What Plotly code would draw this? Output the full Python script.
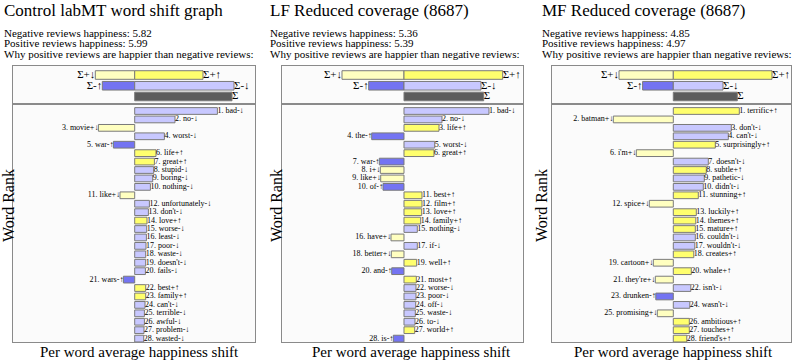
import plotly.graph_objects as go

W, H = 797, 361
FONT = "Liberation Serif"

titles = ["Control labMT word shift graph", "LF Reduced coverage (8687)", "MF Reduced coverage (8687)"]
neg_happiness = [5.82, 5.36, 4.85]
pos_happiness = [5.99, 5.39, 4.97]

words_control = ["bad-↓", "no-↓", "movie+↓", "worst-↓", "war-↑", "life+↑", "great+↑", "stupid-↓",
                 "boring-↓", "nothing-↓", "like+↓", "unfortunately-↓", "don't-↓", "love+↑", "worse-↓",
                 "least-↓", "poor-↓", "waste-↓", "doesn't-↓", "fails-↓", "wars-↑", "best+↑", "family+↑",
                 "can't-↓", "terrible-↓", "awful-↓", "problem-↓", "wasted-↓"]
shift_control = [82.7, 40.3, -36.3, 29.7, -21.3, 21.3, 19.7, 19, 18, 15.7, -14.7, 14.7, 13.7, 12.3,
                 12, 11.7, 11.3, 11, 11, 10.7, -11.3, 11, 11, 10.3, 9.7, 9.7, 9.3, 9]

words_lf = ["bad-↓", "no-↓", "life+↑", "the-↑", "worst-↓", "great+↑", "war-↑", "i+↓", "like+↓", "of-↑",
            "best+↑", "film+↑", "love+↑", "family+↑", "nothing-↓", "have+↓", "if-↓", "better+↓",
            "well+↑", "and-↑", "most+↑", "worse-↓", "poor-↓", "off-↓", "waste-↓", "to-↓", "world+↑", "is-↑"]
shift_lf = [85, 38, 35, -32.3, 30.7, 30, -24.7, -23.7, -23.3, -21, 18, 18, 17.7, 16.7, 13.3, -13,
            13.3, -12.7, 12.7, -12.3, 12.3, 12, 12, 11.7, 11.3, 11, 10.7, -10.7]

words_mf = ["terrific+↑", "batman+↓", "don't-↓", "can't-↓", "surprisingly+↑", "i'm+↓", "doesn't-↓",
            "subtle+↑", "pathetic-↓", "didn't-↓", "stunning+↑", "spice+↓", "luckily+↑", "themes+↑",
            "mature+↑", "couldn't-↓", "wouldn't-↓", "creates+↑", "cartoon+↓", "whale+↑", "they're+↓",
            "isn't-↓", "drunken-↑", "wasn't-↓", "promising+↓", "ambitious+↑", "touches+↑", "friend's+↑"]
shift_mf = [66, -60, 58, 55, 42, -37, 35, 33, 31, 30, 25, -24, 23, 22.5, 22, 22, 21.5, 20.5, -20,
            18, -18, 17.5, -17.5, 16.5, -16, 16, 16, 13.5]

# summary: [sum+down, sum+up, sum-up, sum-down, total]
summary_control = [-39.4, 68.3, -32.4, 99.3, 97.3]
summary_lf = [-62, 98.7, -35.3, 77, 79.7]
summary_mf = [-54.3, 98.7, -30.7, 49.7, 64]

panels = [
    dict(words=words_control, shift=shift_control, summ=summary_control,
         box=(13, 255), xr=(-121.7, 120.3), tx=2, wr=8, xl=139),
    dict(words=words_lf, shift=shift_lf, summ=summary_lf,
         box=(282.3, 522.5), xr=(-121.7, 118.5), tx=268, wr=276, xl=411),
    dict(words=words_mf, shift=shift_mf, summ=summary_mf,
         box=(551.7, 791), xr=(-121.6, 117.7), tx=540, wr=541, xl=673),
]

C_PLUS_UP = "#ffff6e"
C_PLUS_DOWN = "#ffffc0"
C_MINUS_UP = "#7474f2"
C_MINUS_DOWN = "#c8c8ff"
C_TOTAL = "#5c5c5c"
EDGE = "#7a7a7a"


def color_for(w):
    if w.endswith("+↑"):
        return C_PLUS_UP
    if w.endswith("+↓"):
        return C_PLUS_DOWN
    if w.endswith("-↑"):
        return C_MINUS_UP
    return C_MINUS_DOWN


def py(p):
    return 1 - p / H


def px(p):
    return p / W


fig = go.Figure()
layout = dict(width=W, height=H, margin=dict(l=0, r=0, t=0, b=0),
              paper_bgcolor="white", showlegend=False, barmode="overlay",
              font=dict(family=FONT, color="black"))
annotations = []

SUM_TOP, SUM_BOT, MAIN_BOT = 66, 104, 342.3
ROW1_Y, ROW_STEP = 111.0, 8.43

for i, p in enumerate(panels):
    sa = 2 * i + 1
    ma = 2 * i + 2
    sx = "x" if sa == 1 else f"x{sa}"
    sy = "y" if sa == 1 else f"y{sa}"
    mx, my = f"x{ma}", f"y{ma}"
    dom = [px(p["box"][0]), px(p["box"][1])]
    axcommon = dict(showgrid=False, zeroline=False, showticklabels=False, ticks="",
                    showline=True, mirror=True, linecolor="#8a8a8a", linewidth=1, fixedrange=True)
    layout["xaxis" if sa == 1 else f"xaxis{sa}"] = dict(domain=dom, range=list(p["xr"]),
                                                          anchor=sy, **axcommon)
    layout["yaxis" if sa == 1 else f"yaxis{sa}"] = dict(domain=[py(SUM_BOT), py(SUM_TOP)],
                                                          range=[2.7, -0.84], anchor=sx, **axcommon)
    layout[f"xaxis{ma}"] = dict(domain=dom, range=list(p["xr"]), anchor=my, **axcommon)
    top_r = 1 + (SUM_BOT - ROW1_Y) / ROW_STEP
    bot_r = 1 + (MAIN_BOT - ROW1_Y) / ROW_STEP
    layout[f"yaxis{ma}"] = dict(domain=[py(MAIN_BOT), py(SUM_BOT)], range=[bot_r, top_r],
                                anchor=mx, **axcommon)

    # summary bars
    s = p["summ"]
    sum_x = [s[0], s[1], s[2], s[3], s[4]]
    sum_y = [0, 0, 1, 1, 2]
    sum_c = [C_PLUS_DOWN, C_PLUS_UP, C_MINUS_UP, C_MINUS_DOWN, C_TOTAL]
    fig.add_trace(go.Bar(x=sum_x, y=sum_y, orientation="h", width=0.8,
                         marker=dict(color=sum_c, line=dict(color=EDGE, width=1)),
                         xaxis=sx, yaxis=sy, hoverinfo="skip"))
    sum_lab = ["Σ+↓", "Σ+↑", "Σ-↑", "Σ-↓", "Σ"]
    for xv, yv, t in zip(sum_x, sum_y, sum_lab):
        fig.add_trace(go.Scatter(x=[xv], y=[yv], mode="text", text=[t],
                                 textposition="middle right" if xv > 0 else "middle left",
                                 textfont=dict(family=FONT, size=11, color="black"),
                                 cliponaxis=False, xaxis=sx, yaxis=sy, hoverinfo="skip"))

    # main bars
    ranks = list(range(1, len(p["words"]) + 1))
    cols = [color_for(w) for w in p["words"]]
    fig.add_trace(go.Bar(x=p["shift"], y=ranks, orientation="h", width=0.8,
                         marker=dict(color=cols, line=dict(color=EDGE, width=1)),
                         xaxis=mx, yaxis=my, hoverinfo="skip"))
    labels = [f"{r}. {w}" for r, w in zip(ranks, p["words"])]
    pos = [k for k, v in enumerate(p["shift"]) if v > 0]
    neg = [k for k, v in enumerate(p["shift"]) if v <= 0]
    for idxs, tp in ((pos, "middle right"), (neg, "middle left")):
        fig.add_trace(go.Scatter(x=[p["shift"][k] for k in idxs], y=[ranks[k] for k in idxs],
                                 mode="text", text=[labels[k] for k in idxs], textposition=tp,
                                 textfont=dict(family=FONT, size=8, color="black"),
                                 cliponaxis=True, xaxis=mx, yaxis=my, hoverinfo="skip"))

    # texts
    annotations.append(dict(x=px(p["tx"]), y=py(10.5), xref="paper", yref="paper",
                            text=titles[i], showarrow=False, xanchor="left", yanchor="middle",
                            font=dict(family=FONT, size=17, color="black")))
    lines = [f"Negative reviews happiness: {neg_happiness[i]:.2f}",
             f"Positive reviews happiness: {pos_happiness[i]:.2f}",
             "Why positive reviews are happier than negative reviews:"]
    for j, t in enumerate(lines):
        annotations.append(dict(x=px(p["tx"]), y=py(32.5 + 10.8 * j), xref="paper", yref="paper",
                                text=t, showarrow=False, xanchor="left", yanchor="middle",
                                font=dict(family=FONT, size=11, color="black")))
    annotations.append(dict(x=px(p["wr"]), y=py(206), xref="paper", yref="paper",
                            text="Word Rank", showarrow=False, textangle=-90,
                            xanchor="center", yanchor="middle",
                            font=dict(family=FONT, size=16, color="black")))
    annotations.append(dict(x=px(p["xl"]), y=py(351.5), xref="paper", yref="paper",
                            text="Per word average happiness shift", showarrow=False,
                            xanchor="center", yanchor="middle",
                            font=dict(family=FONT, size=15, color="black")))

layout["annotations"] = annotations
layout["plot_bgcolor"] = "#fbfbfb"
fig.update_layout(**layout)
fig.write_html("out.html", config={"displayModeBar": False},
               post_script="document.body.style.margin='0';document.body.style.overflow='hidden';")
